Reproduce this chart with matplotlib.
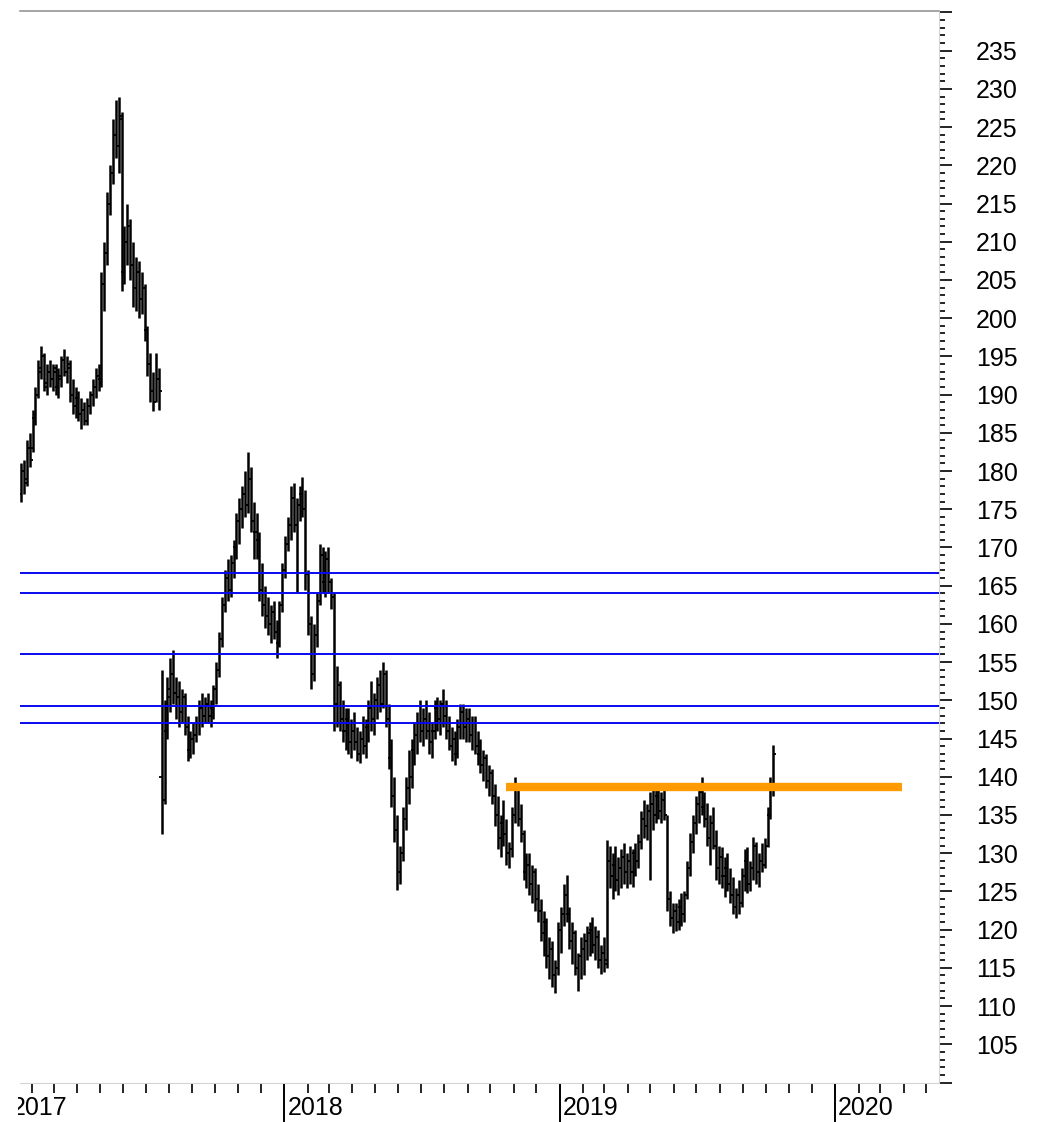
import matplotlib
matplotlib.use('Agg')
import matplotlib.pyplot as plt
import matplotlib.dates as mdates
import matplotlib.ticker as mticker
import matplotlib.transforms as mtransforms
import pandas as pd

plt.rcParams['font.family'] = ['Liberation Sans', 'DejaVu Sans']

# price bars, about two trading days each (one row per month)
first_day = '2017-01-17'
last_day = '2019-10-11'

high = [
    181, 181.5, 184, 185,
    188, 191, 194.5, 196.3, 195.5, 194, 194.5, 194,
    194, 193.5, 195, 196, 195, 194.5, 192, 191,
    190.5, 189.5, 189, 189.5, 190.5, 192, 193.5, 194,
    206, 210, 216.5, 220, 226, 228.5, 229, 227,
    212, 215, 213, 210, 208, 207.5, 206, 204.5,
    199, 195.5, 193, 195.5, 193.5, 154, 150, 153,
    155.5, 156.6, 153, 152.5, 151.5, 151, 148, 146,
    147, 148, 150, 151, 150.5, 151, 150, 152,
    155, 159, 163.5, 167, 168.5, 169, 171, 174.5,
    176.5, 178, 180, 182.5, 180.5, 176, 174.5, 172,
    168, 165, 163.5, 162.5, 163, 160.5, 163, 168,
    171.5, 174, 178, 178.5, 176.5, 178, 179.2, 177.5,
    167, 161, 160, 164, 170.5, 170, 169.5, 170,
    166, 164, 154.5, 152.5, 150, 149, 149, 147.5,
    148.5, 146.5, 146, 148, 147.5, 150, 152.5, 151,
    153, 154, 155, 154, 149.5, 145, 140, 135,
    131, 136, 140, 143.5, 145, 147, 148.5, 150,
    149, 150, 148.5, 147, 150, 150.5, 150, 151.5,
    150, 148, 146.5, 146, 147.5, 149.5, 149.5, 149,
    149, 148, 148, 146, 145, 143.5, 143, 141.5,
    141, 139, 137.5, 135, 137, 134.5, 131.5, 136,
    140, 139, 136.5, 133, 130, 130, 128.5, 128,
    126, 124, 122.5, 121.5, 119, 118.5, 116, 121,
    123, 126, 127.2, 123, 121, 120, 117, 119,
    119.5, 120.5, 121, 121.6, 120.5, 120, 118, 119,
    131.7, 131, 130, 131, 129.5, 130.5, 131.3, 130,
    131, 130.5, 131.3, 132.5, 135.5, 137, 136.5, 138,
    138.5, 138.3, 138.5, 138, 138.5, 135, 125, 123.5,
    123.5, 124, 124.8, 125, 129, 132.6, 135, 137.5,
    139, 140, 138, 136.6, 135, 136, 133, 131,
    130.8, 129.5, 130, 128, 126.9, 125.5, 126.5, 128,
    130.5, 130.8, 129, 132.1, 131.5, 130, 131.3, 132,
    136, 140, 144.2,
]

low = [
    176, 177, 178, 180.5,
    182.5, 186, 189.5, 192, 190.5, 190, 191, 190.5,
    190, 189.5, 191, 192.5, 191.5, 189, 187.5, 187,
    186.5, 185.5, 186, 186, 187.5, 188.5, 189.5, 190.5,
    191, 201, 207, 213.5, 217.5, 221, 219, 203.5,
    204.5, 207, 205, 201.5, 201, 200, 200.5, 197,
    192.5, 189, 187.8, 189, 188, 132.5, 136.5, 145,
    148.5, 149.5, 147.5, 146.5, 147, 145.5, 142, 142.5,
    143, 144.5, 145.5, 146.5, 147, 147, 146.5, 147.5,
    149.5, 153, 157, 161.5, 163, 163.5, 166, 168.5,
    170.5, 172.5, 174, 174.5, 172, 168.5, 168.5, 163,
    161, 159.5, 158.5, 157.5, 158, 155.5, 157, 161.5,
    166, 169.5, 171, 172, 164, 173.5, 174, 164.5,
    158.5, 151.5, 152.5, 157, 162.5, 164, 163.5, 164,
    162, 146, 146.5, 146, 144.5, 143.5, 143, 142.5,
    143.5, 142, 141.8, 143, 142.5, 144.5, 146, 145.5,
    147.5, 148.5, 149, 146.5, 141, 136, 131.5, 125.2,
    126, 129, 133, 136.5, 138.5, 141.5, 143, 144.5,
    144, 145, 143, 142.5, 145, 146, 145.5, 146.5,
    145, 143.5, 142, 141.5, 142.5, 145, 145, 144.5,
    144.5, 143.5, 143, 141.5, 140.5, 139.5, 138.5, 137.5,
    136.5, 133.5, 130.5, 129.5, 131, 128.5, 128, 129.5,
    134, 133.5, 131.5, 126.5, 125.5, 124.5, 123.5, 122.5,
    121, 118.5, 116.5, 115, 113.5, 112.5, 111.7, 114,
    117, 120.5, 121, 117.5, 115.5, 114, 112, 113.5,
    114, 116, 116.5, 117, 116, 115, 114.2, 114.5,
    115, 125.5, 124, 125, 124.5, 125.5, 126, 125.5,
    126, 125.6, 127, 128, 130.5, 132, 131.7, 126.5,
    133, 134, 134.5, 134, 134.4, 122.5, 120.5, 119.6,
    119.8, 120, 120.5, 121, 124, 127, 130, 132.5,
    134, 135, 133.4, 131, 128.5, 130.5, 126.5, 126,
    125.5, 124.3, 125, 123.5, 122, 121.5, 122, 123,
    125, 124.8, 125, 126.5, 126, 125.6, 127.5, 128,
    130.8, 134.5, 137.5,
]

open_ = [
    177, 180, 179, 183,
    183, 187, 190, 193, 195, 191, 193, 192,
    193, 191, 192, 194.5, 193, 193.5, 190, 188.5,
    189.5, 187.5, 188, 186.5, 188.5, 190, 191, 192.5,
    192, 204.5, 208.5, 215, 219, 224, 222.5, 226,
    206, 210, 212, 207, 204, 206, 202.5, 204,
    198.5, 194, 190.5, 189, 192, 140, 137, 146,
    150.5, 153.5, 151, 150.5, 148.5, 150.5, 146.5, 143.5,
    145, 145.5, 147, 149, 148, 149.5, 148, 149,
    151.5, 154, 158, 162.5, 166, 164.5, 168, 170,
    173.5, 175, 177, 175.5, 179, 173.5, 172, 171,
    164.5, 162.5, 161, 160, 161.5, 159, 157.5, 162.5,
    167, 170.5, 173, 176.5, 173, 175.5, 177, 175,
    166.5, 160, 153.5, 158.5, 163, 169, 165.5, 168.5,
    165.5, 163.5, 149.5, 152, 147.5, 146, 147.5, 144.5,
    146, 144.5, 143, 145, 144, 146.5, 149, 147.5,
    150, 152, 149.5, 153.5, 147.5, 142.5, 137.5, 133,
    127.5, 130, 134.5, 138.5, 140, 143.5, 145.5, 147,
    146, 147.5, 146, 144.5, 146, 149, 147.5, 149.5,
    148, 146, 144, 145, 143, 146.5, 148.5, 146.5,
    147.5, 145.5, 147, 144, 143, 141.5, 142.5, 139.5,
    140.5, 137.5, 135, 132, 134, 132.5, 130, 130.5,
    135, 138.5, 134.5, 132.5, 127.5, 128.5, 126, 127.5,
    124, 122.5, 119.5, 121, 116.5, 117.5, 114, 115,
    120, 122, 124.5, 122, 118.5, 119.5, 115, 116.5,
    117.5, 118.5, 119.5, 120, 118, 119, 116, 117,
    116, 129, 127, 128.5, 126.5, 128, 129.5, 127.5,
    129, 127.5, 130, 129, 131.5, 134.5, 133.5, 135.5,
    136.5, 135, 137.5, 135.5, 137, 135, 124, 121.5,
    122.5, 121, 123, 122, 124.5, 128, 131.5, 134,
    136.5, 138, 136, 134.5, 132, 134, 131, 128,
    129.5, 127, 128, 126, 124.5, 123, 124.5, 123.5,
    127, 129, 126, 128, 131, 127.5, 129, 128.5,
    131, 135, 139,
]

close = [
    180, 178.5, 183, 181.5,
    187.5, 190, 193.5, 195, 191.5, 193, 192, 193.5,
    191, 192.5, 194.5, 193, 194, 190, 188.5, 189.5,
    187.5, 188, 186.5, 188.5, 190, 191, 192.5, 191.5,
    204.5, 208.5, 215, 219, 224, 222.5, 226.5, 206,
    210, 212, 207, 204, 206, 202.5, 204, 198.5,
    194, 190.5, 189, 192, 190.5, 137, 146, 151.5,
    153.5, 151, 150.5, 148.5, 150.5, 146.5, 143.5, 145,
    145.5, 147, 149, 148, 149.5, 148, 149, 151.5,
    154, 158, 162.5, 166, 164.5, 168, 170, 173.5,
    175, 177, 175.5, 179, 173.5, 172, 171, 164.5,
    162.5, 161, 160, 161.5, 159, 157.5, 162.5, 167,
    170.5, 173, 176.5, 173, 175.5, 177, 175, 166.5,
    160, 153.5, 158.5, 163, 169, 165.5, 168.5, 165.5,
    163.5, 149.5, 152, 147.5, 146, 147.5, 144.5, 146,
    144.5, 143, 145, 144, 146.5, 149, 147.5, 150,
    152, 149.5, 153.5, 147.5, 142.5, 137.5, 133, 127.5,
    130, 134.5, 138.5, 140, 143.5, 145.5, 147, 146,
    147.5, 146, 144.5, 146, 149, 147.5, 149.5, 148,
    146, 144, 145, 143, 146.5, 148.5, 146.5, 147.5,
    145.5, 147, 144, 143, 141.5, 142.5, 139.5, 140.5,
    137.5, 135, 132, 134, 132.5, 130, 130.5, 135,
    138.5, 134.5, 132.5, 127.5, 128.5, 126, 127.5, 124,
    122.5, 119.5, 121, 116.5, 117.5, 114, 115, 120,
    122, 124.5, 122, 118.5, 119.5, 115, 116.5, 117.5,
    118.5, 119.5, 120, 118, 119, 116, 117, 115.5,
    129, 127, 128.5, 126.5, 128, 129.5, 127.5, 129,
    127.5, 130, 129, 131.5, 134.5, 133.5, 135.5, 136.5,
    135, 137.5, 135.5, 137, 135, 124, 121.5, 122.5,
    121, 123, 122, 124.5, 128, 131.5, 134, 136.5,
    138, 136, 134.5, 132, 134, 131, 128, 129.5,
    127, 128, 126, 124.5, 123, 124.5, 123.5, 127,
    129, 126, 128, 131, 127.5, 129, 128.5, 131,
    135, 139, 143,
]

support_levels = [166.6, 164.0, 156.0, 149.2, 147.0]
resistance_level = 138.7
resistance_start = '2018-10-22'
resistance_end = '2020-03-29'
year_labels = [2017, 2018, 2019, 2020]


fig = plt.figure(figsize=(10.43, 11.22), dpi=100)
ax = fig.add_axes([20 / 1043, 39.5 / 1122, 919 / 1043, 1072 / 1122])

base = mdates.date2num(pd.Timestamp('2017-01-01'))
ax.set_xlim(base + 14.58, base + 1232.6)
ax.set_ylim(100, 240.26)

x = mdates.date2num(pd.date_range(first_day, last_day, periods=len(close)))
tick_days = 4.0
ax.vlines(x, low, high, color='black', lw=1.8, zorder=2)
ax.hlines(open_, x - tick_days, x, color='black', lw=1.3, zorder=2)
ax.hlines(close, x, x + tick_days, color='black', lw=1.3, zorder=2)

x0, x1 = ax.get_xlim()
ax.hlines(support_levels, x0, x1, colors='#0a0aee', lw=1.4, zorder=3)
ax.hlines(resistance_level,
          mdates.date2num(pd.Timestamp(resistance_start)),
          mdates.date2num(pd.Timestamp(resistance_end)),
          colors='#ff9b00', lw=6, zorder=4)

# spines
ax.spines['left'].set_visible(False)
ax.spines['top'].set_color('#8c8c8c')
ax.spines['top'].set_linewidth(1.1)
ax.spines['right'].set_color('#d4d4d4')
ax.spines['right'].set_linewidth(0.8)
ax.spines['bottom'].set_color('#d4d4d4')
ax.spines['bottom'].set_linewidth(0.8)

# y axis on the right
ax.yaxis.tick_right()
ax.yaxis.set_major_locator(mticker.MultipleLocator(5))
ax.yaxis.set_minor_locator(mticker.MultipleLocator(1))
ax.yaxis.set_major_formatter(mticker.FuncFormatter(
    lambda v, p: '' if v < 104 or v > 236 else '%d' % round(v)))
ax.tick_params(axis='y', which='major', direction='out', length=9.5, width=1.2,
               pad=17, labelsize=18, right=True, left=False)
ax.tick_params(axis='y', which='minor', direction='out', length=4.3, width=1.2,
               right=True, left=False)

# x axis: month ticks, long year ticks, labels drawn by hand
ax.xaxis.set_major_locator(mdates.YearLocator())
ax.xaxis.set_minor_locator(mdates.MonthLocator())
ax.xaxis.set_major_formatter(mticker.NullFormatter())
ax.xaxis.set_minor_formatter(mticker.NullFormatter())
ax.tick_params(axis='x', which='major', direction='out', length=28.5, width=1.4)
ax.tick_params(axis='x', which='minor', direction='out', length=7.2, width=1.2)

trans = mtransforms.blended_transform_factory(ax.transData, ax.transAxes)
label_trans = mtransforms.offset_copy(trans, fig=fig, x=2.2, y=-23.2, units='points')
for yr in year_labels:
    xpos = mdates.date2num(pd.Timestamp('%d-01-01' % yr))
    t = ax.text(xpos, 0, str(yr), transform=label_trans, fontsize=18,
                ha='left', va='baseline', clip_on=False)
    if xpos < x0:
        t.set_clip_path(None)
        t.set_clip_box(mtransforms.TransformedBbox(
            mtransforms.Bbox([[18 / 1043, 0], [1, 1]]), fig.transFigure))
        t.set_clip_on(True)

fig.savefig('out.png', dpi=100)
